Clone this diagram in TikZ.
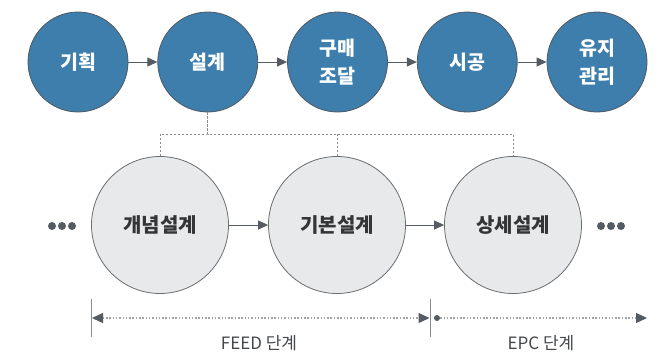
\documentclass[tikz,border=0pt]{standalone}
\usepackage{fontspec}
\setmainfont{Noto Sans CJK KR}
\usetikzlibrary{arrows.meta}
\definecolor{topblue}{HTML}{3D7EAD}
\definecolor{topedge}{HTML}{4F5860}
\definecolor{lightfill}{HTML}{E8E9EA}
\definecolor{lightedge}{HTML}{6A6D70}
\definecolor{arrowgray}{HTML}{555B62}
\definecolor{dotgray}{HTML}{8A8D90}
\definecolor{txtdark}{HTML}{333537}
\definecolor{txtgray}{HTML}{45484B}
\tikzset{
  spantip/.tip={Triangle[length=11pt,width=10pt,color=arrowgray]},
  topcirc/.style={circle, fill=topblue, draw=topedge, line width=0.8pt, minimum size=100pt, inner sep=0pt,
    text=white, font=\fontsize{19.5}{28}\selectfont\bfseries, align=center},
  botcirc/.style={circle, fill=lightfill, draw=lightedge, line width=0.8pt, minimum size=137pt, inner sep=0pt,
    text=txtdark, font=\fontsize{20}{26}\selectfont\bfseries, align=center},
  flow/.style={draw=arrowgray, line width=1pt, -{Triangle[length=10pt,width=9pt]}},
  linkline/.style={draw=dotgray, line width=0.9pt, dash pattern=on 2.2pt off 1.8pt},
  spanline/.style={draw=dotgray!80, line width=1.1pt, dash pattern=on 1.5pt off 1.8pt},
  tickline/.style={draw=arrowgray!70, line width=0.9pt},
  dotmark/.style={circle, fill=arrowgray, inner sep=0pt, minimum size=8pt},
  phase/.style={text=txtgray, font=\fontsize{17}{20}\selectfont},
}
\begin{document}
\begin{tikzpicture}[x=1pt,y=-1pt]
\useasboundingbox (0,0) rectangle (669,357);
% top row
\node[topcirc] (t1) at (78,62) {기획};
\node[topcirc] (t2) at (207.75,62) {설계};
\node[topcirc] (t3) at (337.5,62) {구매\\조달};
\node[topcirc] (t4) at (467.25,62) {시공};
\node[topcirc] (t5) at (597,62) {유지\\관리};
\draw[flow] (t1) -- (t2);
\draw[flow] (t2) -- (t3);
\draw[flow] (t3) -- (t4);
\draw[flow] (t4) -- (t5);
% bottom row
\node[botcirc] (b1) at (160,225) {개념설계};
\node[botcirc] (b2) at (337,225) {기본설계};
\node[botcirc] (b3) at (513,225) {상세설계};
\draw[flow] (b1) -- (b2);
\draw[flow] (b2) -- (b3);
% dotted links
\coordinate (j) at (207.75,134);
\draw[linkline] (t2.south) -- (j);
\draw[linkline] (b1.north) |- (j) -| (b3.north);
\draw[linkline] (b2.north) -- (b2.north |- j);
% ellipsis dots
\node[dotmark] (l1) at (52,226) {};
\node[dotmark] (l2) at (62,226) {};
\node[dotmark] (l3) at (72,226) {};
\node[dotmark] (r1) at (601,226) {};
\node[dotmark] (r2) at (611,226) {};
\node[dotmark] (r3) at (621,226) {};
% phase span
\coordinate (k1a) at (91.5,299);
\coordinate (k1b) at (91.5,337);
\coordinate (k2a) at (430,299);
\coordinate (k2b) at (430,337);
\draw[tickline] (k1a) -- (k1b);
\draw[tickline] (k2a) -- (k2b);
\coordinate (s1) at (92,318);
\coordinate (s2) at (429.5,318);
\coordinate (s3) at (437,318);
\coordinate (s4) at (647,318);
\draw[spanline, {spantip}-{spantip}] (s1) -- (s2);
\node[circle, fill=arrowgray, inner sep=0pt, minimum size=6pt] (sd) at (s3) {};
\draw[spanline, -{spantip}] (sd) -- (s4);
\node[phase] (p1) at (259,343) {FEED 단계};
\node[phase] (p2) at (541,343) {EPC 단계};
\end{tikzpicture}
\end{document}
